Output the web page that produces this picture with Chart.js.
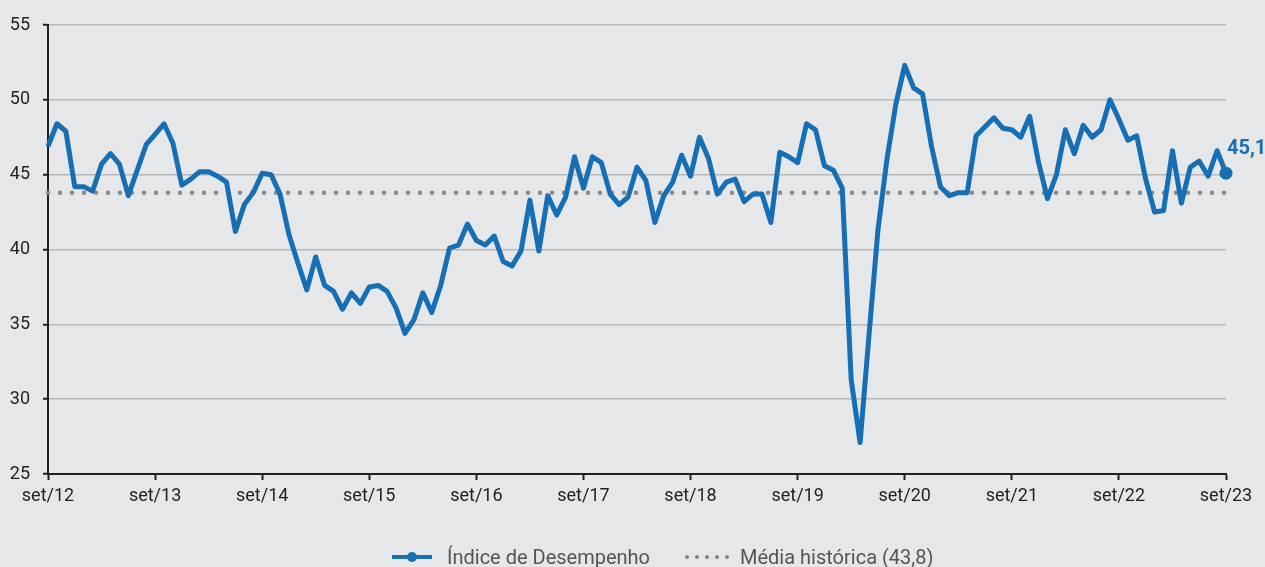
<!DOCTYPE html>
<html lang="pt-BR">
<head>
<meta charset="utf-8">
<title>Índice de Desempenho</title>
<script src="https://cdn.jsdelivr.net/npm/chart.js@4.4.1/dist/chart.umd.min.js"></script>
<style>
    html, body { margin: 0; padding: 0; background: #e6e7e9; }
    #area { position: relative; width: 1265px; height: 567px; overflow: hidden; }
    #legenda { position: absolute; left: 392px; top: 543px; font: 20px Roboto, sans-serif; color: #555; white-space: nowrap; }
    #legenda span { display: inline-block; vertical-align: middle; }
    .linha { position: relative; width: 40px; height: 4px; background: #166fb5; margin-right: 15px; }
    .linha::after { content: ''; position: absolute; left: 15px; top: -3px; width: 10px; height: 10px; border-radius: 50%; background: #166fb5; }
    .pontos { width: 48px; height: 4px; margin: 0 10px 0 32px;
        background: radial-gradient(circle, #8a8a8a 1.8px, transparent 2.2px) 0 0 / 10px 4px repeat-x; }
</style>
</head>
<body>
<div id="area">
    <canvas id="grafico" width="1265" height="567"></canvas>
    <div id="legenda">
        <span class="linha"></span><span>Índice de Desempenho</span><span class="pontos"></span><span>Média histórica (43,8)</span>
    </div>
</div>
<script>
var meses = ['set', 'out', 'nov', 'dez', 'jan', 'fev', 'mar', 'abr', 'mai', 'jun', 'jul', 'ago'];
var anoInicial = 12;

// set/12 a set/23, mensal
var indice = [
    46.9, 48.4, 47.9, 44.2, 44.2, 43.9, 45.7, 46.4, 45.7, 43.6, 45.3, 47.0,
    47.7, 48.4, 47.1, 44.3, 44.7, 45.2, 45.2, 44.9, 44.5, 41.2, 43.0, 43.8,
    45.1, 45.0, 43.7, 41.0, 39.1, 37.3, 39.5, 37.6, 37.2, 36.0, 37.1, 36.4,
    37.5, 37.6, 37.2, 36.1, 34.4, 35.3, 37.1, 35.8, 37.6, 40.1, 40.3, 41.7,
    40.6, 40.3, 40.9, 39.2, 38.9, 39.9, 43.3, 39.9, 43.6, 42.3, 43.5, 46.2,
    44.1, 46.2, 45.8, 43.7, 43.0, 43.5, 45.5, 44.6, 41.8, 43.6, 44.5, 46.3,
    44.9, 47.5, 46.1, 43.7, 44.5, 44.7, 43.2, 43.7, 43.7, 41.8, 46.5, 46.2,
    45.8, 48.4, 48.0, 45.6, 45.3, 44.1, 31.3, 27.1, 34.3, 41.3, 46.0, 49.7,
    52.3, 50.8, 50.4, 46.9, 44.2, 43.6, 43.8, 43.8, 47.6, 48.2, 48.8, 48.1,
    48.0, 47.5, 48.9, 45.8, 43.4, 45.0, 48.0, 46.4, 48.3, 47.5, 48.0, 50.0,
    48.7, 47.3, 47.6, 44.7, 42.5, 42.6, 46.6, 43.1, 45.5, 45.9, 44.9, 46.6,
    45.1
];
var mediaHistorica = 43.8;
var rotuloFinal = '45,1';

var eixoY = { min: 25, max: 55, passo: 5 };

var azul = '#166fb5';
var cinza = '#8a8a8a';
var texto = '#231f20';

var rotulos = indice.map(function (v, i) {
    return meses[i % 12] + '/' + (anoInicial + Math.floor((i + 8) / 12));
});
var media = indice.map(function () { return mediaHistorica; });

var rotuloFinalPlugin = {
    id: 'rotuloFinal',
    afterDatasetsDraw: function (chart) {
        var meta = chart.getDatasetMeta(1);
        var p = meta.data[meta.data.length - 1];
        var ctx = chart.ctx;
        ctx.save();
        ctx.font = 'bold 20px Roboto, sans-serif';
        ctx.fillStyle = azul;
        ctx.textAlign = 'left';
        ctx.textBaseline = 'alphabetic';
        ctx.fillText(rotuloFinal, p.x + 1, p.y - 19);
        ctx.restore();
    }
};

Chart.defaults.font.family = 'Roboto, sans-serif';
Chart.defaults.font.size = 18;
Chart.defaults.color = texto;

new Chart(document.getElementById('grafico').getContext('2d'), {
    type: 'line',
    data: {
        labels: rotulos,
        datasets: [
            {
                label: 'Média histórica (43,8)',
                data: media,
                borderColor: cinza,
                borderWidth: 4.5,
                borderDash: [0, 12],
                borderCapStyle: 'round',
                pointRadius: 0,
                clip: false,
                order: 2
            },
            {
                label: 'Índice de Desempenho',
                data: indice,
                borderColor: azul,
                backgroundColor: azul,
                borderWidth: 5,
                borderJoinStyle: 'round',
                tension: 0,
                pointRadius: function (c) { return c.dataIndex === indice.length - 1 ? 6.5 : 0; },
                pointBorderWidth: 0,
                clip: false,
                order: 1
            }
        ]
    },
    options: {
        responsive: false,
        animation: false,
        layout: { padding: { top: 25, right: 39, bottom: 43, left: 0 } },
        plugins: {
            legend: { display: false },
            tooltip: { enabled: false }
        },
        scales: {
            x: {
                offset: false,
                afterFit: function (s) { s.height = 50; },
                border: { color: texto, width: 2 },
                grid: {
                    drawOnChartArea: false,
                    tickLength: 6,
                    tickWidth: 2,
                    tickColor: function (c) { return c.index % 12 === 0 ? texto : 'transparent'; }
                },
                ticks: {
                    autoSkip: false,
                    maxRotation: 0,
                    padding: 6,
                    callback: function (v, i) { return i % 12 === 0 ? rotulos[i] : ''; }
                }
            },
            y: {
                min: eixoY.min,
                max: eixoY.max,
                afterFit: function (s) { s.width = 48; },
                border: { color: texto, width: 2 },
                grid: {
                    color: function (c) { return c.tick.value === eixoY.min ? 'transparent' : '#b8b8b8'; },
                    lineWidth: 1.5,
                    tickLength: 5,
                    tickWidth: 2,
                    tickColor: texto
                },
                ticks: { stepSize: eixoY.passo, padding: 13 }
            }
        }
    },
    plugins: [rotuloFinalPlugin]
});
</script>
</body>
</html>
